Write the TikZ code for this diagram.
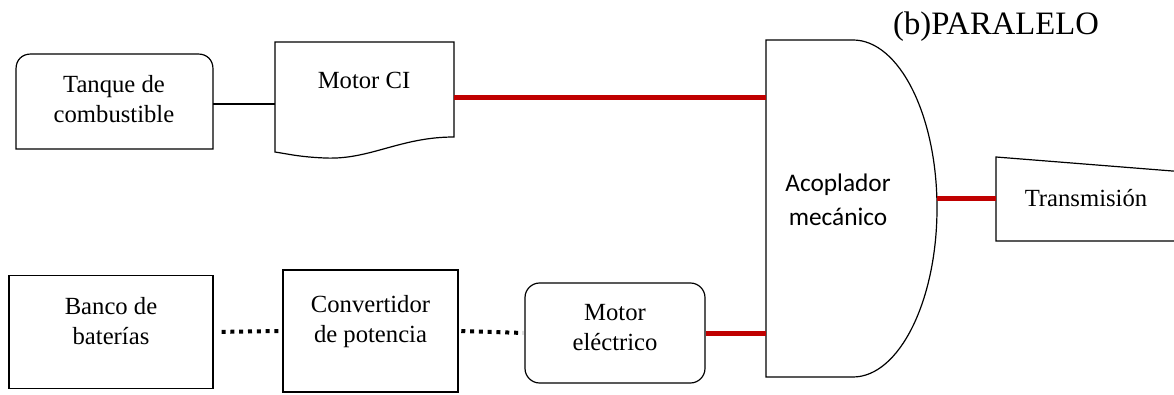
\documentclass[tikz,border=0pt]{standalone}
\usepackage{fontspec}
\setmainfont{Liberation Serif}
\newfontfamily\calib{Carlito}
\definecolor{shaftred}{HTML}{C00000}
\begin{document}
\begin{tikzpicture}[x=0.75pt,y=-0.75pt,
  outline/.style={draw=black,line width=0.9pt},
  boxnode/.style={outline,inner sep=0pt},
  txt/.style={align=center,inner sep=0pt,font=\fontsize{18.5}{22.5}\selectfont},
  sanstxt/.style={align=center,inner sep=0pt,font=\calib\fontsize{19}{25.5}\selectfont},
  shaft/.style={draw=shaftred,line width=3.75pt},
  elec/.style={draw=black,line width=3pt,dash pattern=on 3pt off 3.6pt},
  fuel/.style={draw=black,line width=0.9pt}]
\useasboundingbox (0,0) rectangle (1174,395);
\clip (0,0) rectangle (1174,395);

% Tanque de combustible
\draw[outline] (16,149) -- (16,69) .. controls (16,60) and (22,54) .. (31,54) -- (198,54)
  .. controls (207,54) and (213,60) .. (213,69) -- (213,149) -- cycle;
\node[txt] (tanque) at (114,99) {Tanque de\\combustible};
\coordinate (tanqueE) at (213,104);

% Motor CI (document shape)
\draw[outline] (275,42) -- (454,42) -- (454,137)
  .. controls (400,137) and (370,160) .. (325,158)
  .. controls (300,157) and (288,154) .. (275,152) -- cycle;
\node[txt] (mci) at (364,80) {Motor CI};
\coordinate (mciW) at (275,104);
\coordinate (mciE) at (454,98);

% Acoplador mecanico
\draw[outline] (766,40) -- (853,40) .. controls (899,40) and (937,115) .. (937,208)
  .. controls (937,301) and (899,377) .. (853,377) -- (766,377) -- cycle;
\node[sanstxt] (acop) at (838,200) {Acoplador\\mecánico};
\coordinate (acopW1) at (766,98);
\coordinate (acopW2) at (766,333);
\coordinate (acopE) at (937,199);

% Transmision
\draw[outline] (1185,172) -- (996,157) -- (996,241) -- (1185,241);
\node[txt] (trans) at (1086,198) {Transmisión};
\coordinate (transW) at (996,199);

% Title
\node[align=center,inner sep=0pt,font=\fontsize{24.5}{28}\selectfont] (title) at (996,27) {(b)PARALELO};

% Bottom row
\node[boxnode,minimum width={204*0.75pt},minimum height={113*0.75pt}] (banco) at (111,332) {};
\node[txt] (bancoT) at (111,321) {Banco de\\baterías};
\node[boxnode,minimum width={175*0.75pt},minimum height={122*0.75pt}] (conv) at (370.5,331) {};
\node[txt] (convT) at (370.5,322) {Convertidor\\de potencia};
\node[boxnode,rounded corners=11pt,minimum width={180*0.75pt},minimum height={100*0.75pt}] (mel) at (615,333) {};
\node[txt] (melT) at (615,328) {Motor\\eléctrico};

% Connectors
\draw[fuel] (tanqueE) -- (mciW);
\draw[shaft] (mciE) -- (acopW1);
\draw[shaft] (mel.east) -- (acopW2);
\draw[shaft] (acopE) -- (transW);
\draw[elec,shorten <=6pt,shorten >=1pt] (banco.east) -- (conv.west);
\draw[elec,shorten <=2pt,shorten >=1pt] (conv.east) -- (mel.west);
\end{tikzpicture}
\end{document}
